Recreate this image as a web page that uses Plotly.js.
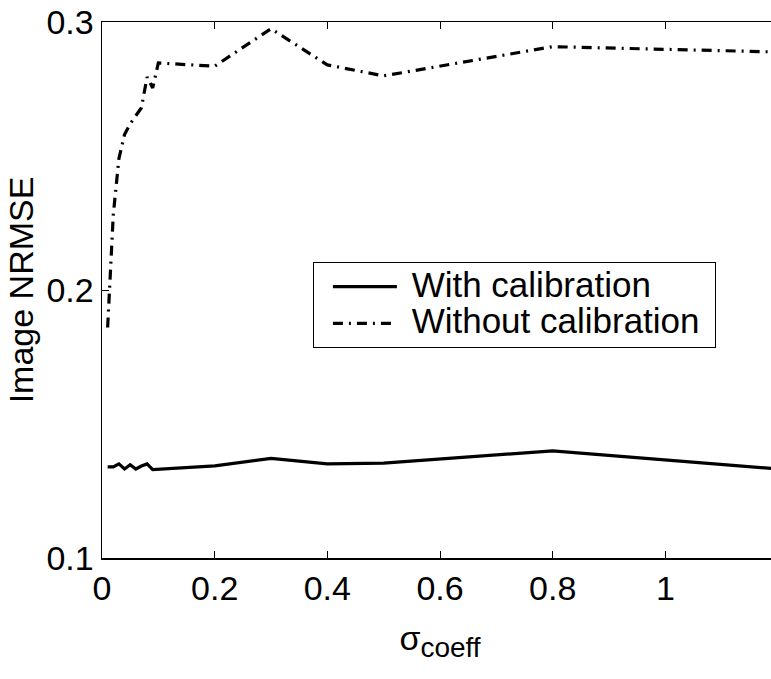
<!DOCTYPE html>
<html><head><meta charset="utf-8">
<script src="https://cdn.plot.ly/plotly-3.0.1.min.js"></script>
<style>html,body{margin:0;padding:0;overflow:hidden;background:#fff;}</style>
</head><body><div id="chart" style="width:790px;height:679px;"></div>
<script>
const sigma = [0.01,0.02,0.03,0.04,0.05,0.06,0.07,0.08,0.09,0.1,0.2,0.3,0.4,0.5,0.8,1.2];
const withCal = [0.1340,0.1340,0.1351,0.1332,0.1348,0.1332,0.1343,0.1351,0.1330,0.1331,0.1344,0.1372,0.1351,0.1354,0.1400,0.1332];
const withoutCal = [0.186,0.228,0.249,0.258,0.262,0.265,0.268,0.2795,0.2754,0.2847,0.2835,0.2975,0.284,0.2799,0.2908,0.2888];
const seriesNames = ["With calibration","Without calibration"];
const xTicks = [0,0.2,0.4,0.6,0.8,1];
const xTickText = ["0","0.2","0.4","0.6","0.8","1"];
const yTicks = [0.1,0.2,0.3];
const yTickText = ["0.1","0.2","0.3"];

const fam = '"Liberation Sans", Arial, Helvetica, sans-serif';
const font = {family:fam, size:34, color:'#000'};
const legName = s => '<span style="font-size:35px">&nbsp;' + s + '&nbsp;</span>';

const traces = [
  {x:sigma, y:withCal, name:legName(seriesNames[0]), mode:'lines', line:{color:'#000', width:3.2}},
  {x:sigma, y:withoutCal, name:legName(seriesNames[1]), mode:'lines', line:{color:'#000', width:3.2, dash:'10px,6px,2px,6px'}}
];

const layout = {
  width:790, height:679,
  margin:{l:102, r:12, t:22, b:121},
  paper_bgcolor:'#fff', plot_bgcolor:'#fff',
  font:font,
  showlegend:true,
  legend:{x:0.312, y:0.552, xanchor:'left', yanchor:'top', bgcolor:'#fff', bordercolor:'#000', borderwidth:1,
          font:{family:fam, size:26, color:'#000'}, itemwidth:64, indentation:14},
  xaxis:{
    range:[0,1.2], tickvals:xTicks, ticktext:xTickText,
    ticks:'inside', ticklen:7, tickwidth:1, tickcolor:'#000',
    showline:true, linecolor:'#000', linewidth:1.5, mirror:'ticks',
    showgrid:false, zeroline:false, tickfont:font,
    title:{text:'σ<sub><span style="font-size:28px">coeff</span></sub>', font:{family:fam, size:34, color:'#000'}, standoff:20},
    automargin:false
  },
  yaxis:{
    range:[0.1,0.3], tickvals:yTicks, ticktext:yTickText,
    ticks:'inside', ticklen:7, tickwidth:1, tickcolor:'#000',
    showline:true, linecolor:'#000', linewidth:1.5, mirror:'ticks',
    showgrid:false, zeroline:false, tickfont:font,
    title:{text:'Image NRMSE', font:font, standoff:2},
    automargin:false
  }
};
Plotly.newPlot('chart', traces, layout, {displayModeBar:false, staticPlot:true});
</script></body></html>
